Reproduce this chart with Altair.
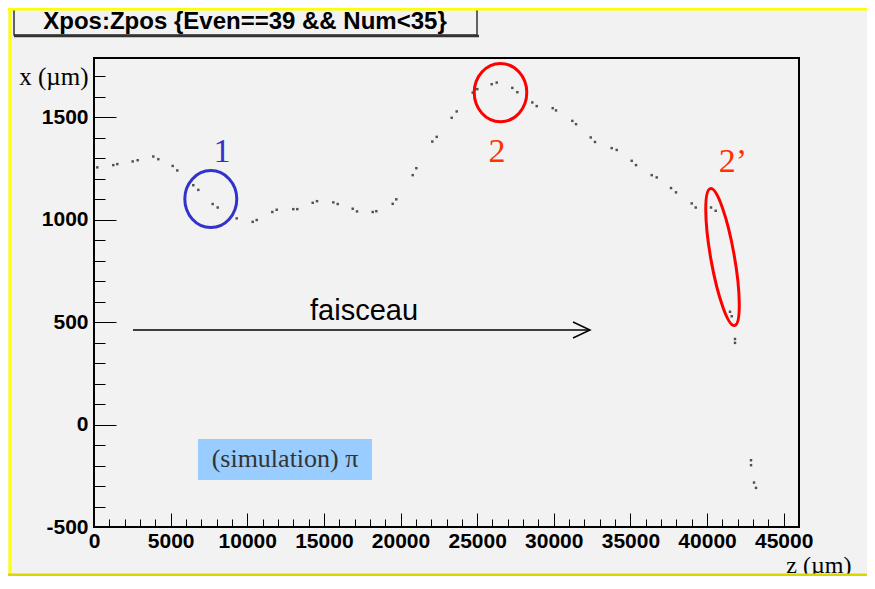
import altair as alt
import pandas as pd

# ---- data: track points (z, x) in micrometres ----
z_um = [215, 1259, 1520, 2525, 2851, 3869, 4196, 5135, 5435, 6479, 6806, 7745, 8072, 9311,
        10355, 10616, 11634, 11921, 13004, 13265, 14270, 14551, 15615, 15902, 16881, 17161,
        18185, 18420, 19490, 19725, 20796, 21030, 22074, 22361, 23340, 23666, 24710, 25010,
        25950, 26276, 27294, 27621, 28600, 28887, 29931, 30146, 31210, 31451, 32410, 32690,
        33780, 34106, 35085, 35366, 36390, 36716, 37649, 37976, 39000, 39261, 40259, 40566,
        41499, 41610, 41825, 41825, 42869, 42869, 43065, 43196]
x_um = [1256, 1267, 1272, 1285, 1291, 1309, 1296, 1263, 1241, 1169, 1146, 1077, 1060, 1007,
        990, 999, 1038, 1049, 1052, 1052, 1083, 1091, 1085, 1077, 1054, 1041,
        1038, 1042, 1078, 1100, 1218, 1252, 1382, 1405, 1498, 1529, 1621, 1638,
        1662, 1670, 1644, 1623, 1573, 1555, 1545, 1534, 1483, 1467, 1402, 1380,
        1350, 1341, 1288, 1267, 1218, 1207, 1155, 1134, 1080, 1060, 1060, 1044,
        551, 529, 418, 399, -174, -198, -283, -309]

# axis ticks
z_major = [0, 5000, 10000, 15000, 20000, 25000, 30000, 35000, 40000, 45000]
z_minor = list(range(0, 46001, 1000))
x_major = [-500, 0, 500, 1000, 1500]
x_minor = list(range(-500, 1701, 100))

# annotations
title_text = "Xpos:Zpos {Even==39 && Num<35}"
ell_z = [7621, 26524, 41010]
ell_x = [1101, 1621, 818]
ell_color = ["#3333cc", "#ff0000", "#ff0000"]
lab_text = ["1", "2", "2\u2019"]
lab_z = [8352, 26296, 41695]
lab_x = [1330, 1330, 1281]
lab_color = ["#3333cc", "#ff3300", "#ff3300"]
arrow_z = [2545, 32364]
arrow_x = [462, 462]
arrow_label = "faisceau"
arrow_label_z = [17618]
arrow_label_x = [554]
box_z = [6786, 18140]
box_x = [-270, -70]
box_text = "(simulation) \u03c0"

zs = alt.Scale(domain=[0, 46000], zero=False, nice=False)
xs = alt.Scale(domain=[-500, 1790], zero=False, nice=False)
NOAX = None

pts = pd.DataFrame({"z": z_um, "x": x_um})

major = alt.Chart(pts).mark_square(size=6, color="#333333", opacity=0.85).encode(
    x=alt.X("z:Q", scale=zs, axis=alt.Axis(
        orient="bottom", values=z_major, offset=-14, tickSize=14, domain=False, grid=False,
        labelFlush=False, labelOverlap=False, labelPadding=3, labelExpr="'' + datum.value",
        labelFont="Liberation Sans", labelFontWeight="bold", labelFontSize=21, labelColor="black",
        tickColor="black", tickWidth=1,
        title="z (\u00b5m)", titleFont="Liberation Serif", titleFontWeight="normal",
        titleFontSize=24, titleColor="black", titleAlign="right", titleBaseline="middle",
        titleX=757, titleY=52)),
    y=alt.Y("x:Q", scale=xs, axis=alt.Axis(
        orient="left", values=x_major, offset=-22, tickSize=22, domain=False, grid=False,
        labelFlush=False, labelOverlap=False, labelPadding=6, labelExpr="'' + datum.value",
        labelFont="Liberation Sans", labelFontWeight="bold", labelFontSize=21, labelColor="black",
        tickColor="black", tickWidth=1,
        title="x (\u00b5m)", titleFont="Liberation Serif", titleFontWeight="normal",
        titleFontSize=25, titleColor="black", titleAngle=0, titleAlign="right",
        titleBaseline="middle", titleX=-28, titleY=18)),
)

minor = alt.Chart(pts).mark_square(size=1, opacity=0).encode(
    x=alt.X("z:Q", scale=zs, title=None, axis=alt.Axis(
        orient="bottom", values=z_minor, offset=-8, tickSize=8, domain=False, grid=False,
        labels=False, tickColor="black", tickWidth=1)),
    y=alt.Y("x:Q", scale=xs, title=None, axis=alt.Axis(
        orient="left", values=x_minor, offset=-11, tickSize=11, domain=False, grid=False,
        labels=False, tickColor="black", tickWidth=1)),
)

layers = [minor, major]

# simulation box
box_df = pd.DataFrame({"z": [box_z[0]], "z2": [box_z[1]], "x": [box_x[0]], "x2": [box_x[1]],
                       "t": [box_text], "zc": [(box_z[0] + box_z[1]) / 2], "xc": [(box_x[0] + box_x[1]) / 2]})
layers.append(alt.Chart(box_df).mark_rect(color="#99ccff").encode(
    x=alt.X("z:Q", scale=zs, axis=NOAX), x2="z2:Q",
    y=alt.Y("x:Q", scale=xs, axis=NOAX), y2="x2:Q"))
layers.append(alt.Chart(box_df).mark_text(font="Liberation Serif", fontSize=26, color="#333333").encode(
    x=alt.X("zc:Q", scale=zs, axis=NOAX), y=alt.Y("xc:Q", scale=xs, axis=NOAX), text="t:N"))

# arrow "faisceau"
arr_df = pd.DataFrame({"z": arrow_z, "x": arrow_x})
layers.append(alt.Chart(arr_df).mark_line(color="black", strokeWidth=1.5).encode(
    x=alt.X("z:Q", scale=zs, axis=NOAX), y=alt.Y("x:Q", scale=xs, axis=NOAX)))
tip_df = pd.DataFrame({"z": [arrow_z[1]], "x": [arrow_x[1]]})
layers.append(alt.Chart(tip_df).mark_point(shape="M -1 -0.47 L 0 0 L -1 0.47", size=1156, filled=False,
                                           color="black", strokeWidth=1.5, opacity=1).encode(
    x=alt.X("z:Q", scale=zs, axis=NOAX), y=alt.Y("x:Q", scale=xs, axis=NOAX)))
fl_df = pd.DataFrame({"z": arrow_label_z, "x": arrow_label_x, "t": [arrow_label]})
layers.append(alt.Chart(fl_df).mark_text(font="Liberation Sans", fontSize=29, color="black").encode(
    x=alt.X("z:Q", scale=zs, axis=NOAX), y=alt.Y("x:Q", scale=xs, axis=NOAX), text="t:N"))

# ellipses
ell_shapes = [
    ("M -0.912 0 A 0.912 1 0 1 0 0.912 0 A 0.912 1 0 1 0 -0.912 0 Z", 3249, 0),
    ("M -0.9 0 A 0.9 1 0 1 0 0.9 0 A 0.9 1 0 1 0 -0.9 0 Z", 3411, 0),
    ("M -0.17 0 A 0.17 1 0 1 0 0.17 0 A 0.17 1 0 1 0 -0.17 0 Z", 19321, 350),
]
for i, (path, sz, ang) in enumerate(ell_shapes):
    edf = pd.DataFrame({"z": [ell_z[i]], "x": [ell_x[i]]})
    layers.append(alt.Chart(edf).mark_point(shape=path, size=sz, angle=ang, filled=False,
                                            color=ell_color[i], strokeWidth=3, opacity=1).encode(
        x=alt.X("z:Q", scale=zs, axis=NOAX), y=alt.Y("x:Q", scale=xs, axis=NOAX)))

# labels 1, 2, 2'
for i in range(3):
    ldf = pd.DataFrame({"z": [lab_z[i]], "x": [lab_x[i]], "t": [lab_text[i]]})
    layers.append(alt.Chart(ldf).mark_text(font="Liberation Serif", fontSize=34, color=lab_color[i]).encode(
        x=alt.X("z:Q", scale=zs, axis=NOAX), y=alt.Y("x:Q", scale=xs, axis=NOAX), text="t:N"))

# title pave and yellow frame (pixel-placed decorations)
tdf = pd.DataFrame({"t": [title_text]})
layers.append(alt.Chart(tdf).mark_rect(fill="#f2f2f2", stroke="#333333", strokeWidth=1.5).encode(
    x=alt.value(-80), x2=alt.value(383), y=alt.value(-54), y2=alt.value(-23)))
layers.append(alt.Chart(tdf).mark_rule(color="#333333", strokeWidth=2.5).encode(
    x=alt.value(-80), x2=alt.value(385), y=alt.value(-22)))
layers.append(alt.Chart(tdf).mark_text(font="Liberation Sans", fontWeight="bold", fontSize=24,
                                       baseline="alphabetic", color="black").encode(
    x=alt.value(151), y=alt.value(-29), text="t:N"))
layers.append(alt.Chart(tdf).mark_rule(color="#ffff00", strokeWidth=3).encode(
    x=alt.value(-84), y=alt.value(-50), y2=alt.value(518)))
layers.append(alt.Chart(tdf).mark_rule(color="#ffff00", strokeWidth=3).encode(
    x=alt.value(-86), x2=alt.value(773), y=alt.value(-49)))
layers.append(alt.Chart(tdf).mark_rule(color="#d8d800", strokeWidth=3).encode(
    x=alt.value(-86), x2=alt.value(773), y=alt.value(517)))

chart = alt.layer(*layers).resolve_axis(x="independent", y="independent").properties(
    width=705, height=469,
    autosize=alt.AutoSizeParams(type="none"),
    padding={"left": 86, "top": 50, "right": 68, "bottom": 49},
    background="#f2f2f2",
).configure_view(fill="#f2f2f2", stroke="black", strokeWidth=2)

chart.save("out.html", embed_options={"renderer": "svg", "actions": False})
